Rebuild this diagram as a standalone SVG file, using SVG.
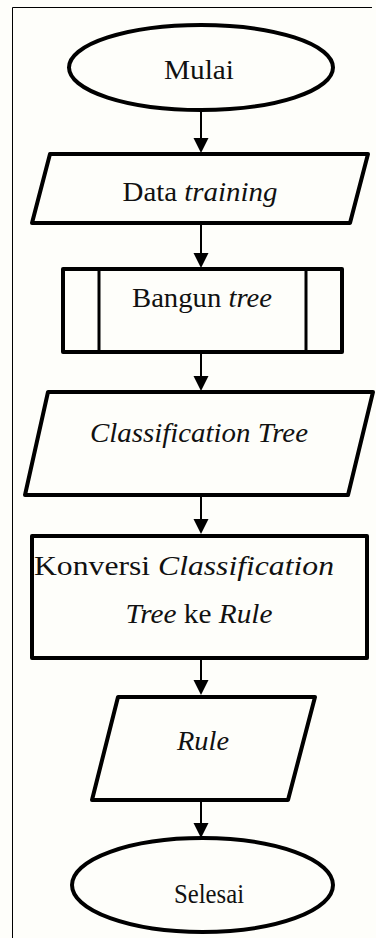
<svg xmlns="http://www.w3.org/2000/svg" width="376" height="938" viewBox="0 0 376 938">
  <style>
    .shape { fill: none; stroke: #000; stroke-width: 4; stroke-linejoin: round; }
    .div { stroke: #000; stroke-width: 3; }
    .frame { stroke: #000; stroke-width: 1; fill: none; }
    .shaft { stroke: #000; stroke-width: 2; }
    .label { font-family: "Liberation Serif", "Times New Roman", Times, serif; font-size: 27px; fill: #111; text-anchor: middle; }
    .it { font-style: italic; }
  </style>
  <defs>
    <!-- filled arrowhead, tip at the origin pointing down -->
    <path id="head" d="M -7.5 -15 L 7.5 -15 L 0 0 Z" fill="#000"/>
  </defs>

  <rect x="0" y="0" width="376" height="938" fill="#fefefa"/>

  <!-- page frame: top and left rule -->
  <path class="frame" d="M 12.5 938 L 12.5 7.5 L 372 7.5"/>

  <g id="start">
    <ellipse class="shape" cx="201" cy="67.5" rx="132" ry="42.5"/>
    <text class="label" x="199" y="79" textLength="70" lengthAdjust="spacingAndGlyphs">Mulai</text>
  </g>

  <g id="data-training">
    <polygon class="shape" points="50,154 368,154 350,223 32,223"/>
    <text class="label" x="200" y="201" textLength="155" lengthAdjust="spacingAndGlyphs">Data <tspan class="it">training</tspan></text>
  </g>

  <g id="bangun-tree">
    <rect class="shape" x="63" y="269" width="279" height="83"/>
    <line class="div" x1="99" y1="269" x2="99" y2="352"/>
    <line class="div" x1="306" y1="269" x2="306" y2="352"/>
    <text class="label" x="202" y="307" textLength="140" lengthAdjust="spacingAndGlyphs">Bangun <tspan class="it">tree</tspan></text>
  </g>

  <g id="classification-tree">
    <polygon class="shape" points="48,392 373,392 348,495 25,495"/>
    <text class="label it" x="199" y="442" textLength="218" lengthAdjust="spacingAndGlyphs">Classification Tree</text>
  </g>

  <g id="konversi">
    <rect class="shape" x="32" y="536" width="335" height="122"/>
    <text class="label" x="184" y="575" textLength="300" lengthAdjust="spacingAndGlyphs">Konversi <tspan class="it">Classification</tspan></text>
    <text class="label" x="199" y="623" textLength="147" lengthAdjust="spacingAndGlyphs"><tspan class="it">Tree</tspan> ke <tspan class="it">Rule</tspan></text>
  </g>

  <g id="rule">
    <polygon class="shape" points="118,697 315,697 288,800 92,800"/>
    <text class="label it" x="203" y="750" textLength="52" lengthAdjust="spacingAndGlyphs">Rule</text>
  </g>

  <g id="end">
    <ellipse class="shape" cx="202.5" cy="885" rx="130.5" ry="47"/>
    <text class="label" x="209" y="903" textLength="70" lengthAdjust="spacingAndGlyphs">Selesai</text>
  </g>

  <g id="connectors">
    <line class="shaft" x1="201" y1="110" x2="201" y2="140"/>
    <use href="#head" x="201" y="153"/>
    <line class="shaft" x1="201" y1="225" x2="201" y2="254"/>
    <use href="#head" x="201" y="268"/>
    <line class="shaft" x1="201" y1="354" x2="201" y2="378"/>
    <use href="#head" x="201" y="391"/>
    <line class="shaft" x1="201" y1="497" x2="201" y2="520"/>
    <use href="#head" x="201" y="534"/>
    <line class="shaft" x1="201" y1="660" x2="201" y2="682"/>
    <use href="#head" x="201" y="695"/>
    <line class="shaft" x1="201" y1="802" x2="201" y2="825"/>
    <use href="#head" x="201" y="838"/>
  </g>
</svg>
